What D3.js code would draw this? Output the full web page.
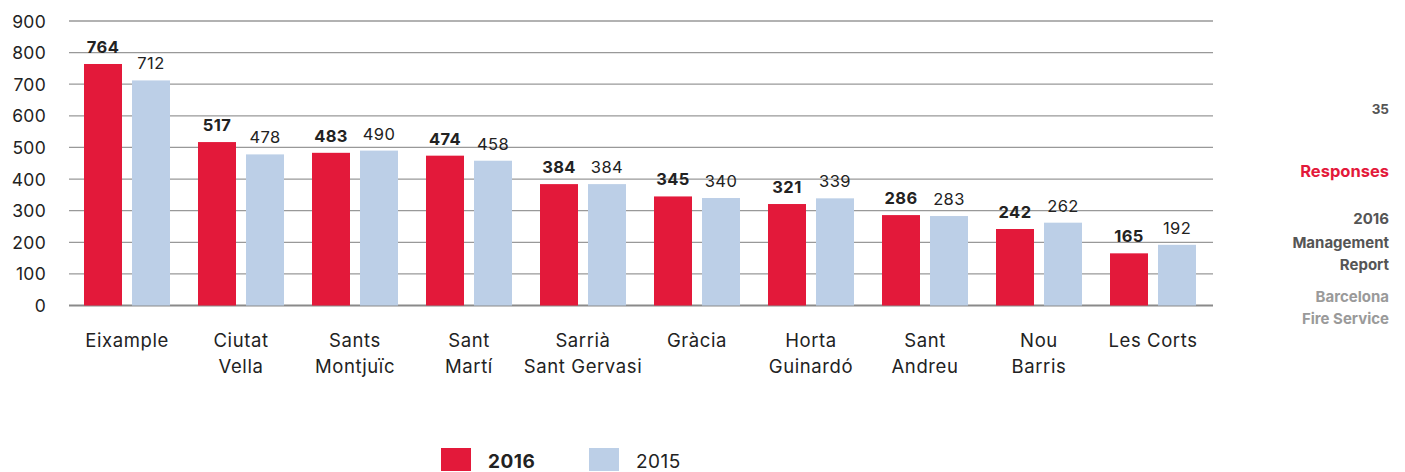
<!DOCTYPE html>
<html><head><meta charset="utf-8">
<script src="https://cdn.jsdelivr.net/npm/d3@7"></script>
<style>
body{margin:0;background:#fff;}
text{font-family:Inter,Roboto,sans-serif;}
</style></head>
<body>
<svg id="c" width="1405" height="472"></svg>
<script>
const categories = [["Eixample"],["Ciutat","Vella"],["Sants","Montjuïc"],["Sant","Martí"],["Sarrià","Sant Gervasi"],["Gràcia"],["Horta","Guinardó"],["Sant","Andreu"],["Nou","Barris"],["Les Corts"]];
const values2016 = [764,517,483,474,384,345,321,286,242,165];
const values2015 = [712,478,490,458,384,340,339,283,262,192];
const seriesNames = ["2016","2015"];
const yTicks = [0,100,200,300,400,500,600,700,800,900];
const sideTexts = ["35","Responses","2016","Management","Report","Barcelona","Fire Service"];

const colors = {"2016":"#e3193a","2015":"#bccfe7"};
const svg = d3.select("#c");
const keys = categories.map(c=>c.join(" "));
const x = d3.scaleBand().domain(keys).range([70,1210]).paddingInner(0).paddingOuter(0);
const xs = d3.scaleBand().domain(seriesNames).range([0,114]).paddingInner(10/48).paddingOuter(14/48);
const y = d3.scaleLinear().domain([0,900]).range([305.5,21]);

svg.append("g").selectAll("line").data(yTicks).join("line")
  .attr("x1",69).attr("x2",1213)
  .attr("y1",d=>y(d)).attr("y2",d=>y(d))
  .attr("stroke",d=>d===0?"#8a8a8a":"#999").attr("stroke-width",d=>d===0?2:1.3);

svg.append("g").selectAll("text").data(yTicks).join("text")
  .attr("x",46).attr("y",d=>y(d)+6.5).attr("text-anchor","end")
  .attr("font-size",17.5).attr("letter-spacing",0.3).attr("fill","#222").text(d=>d);

const data = keys.map((k,i)=>({k, vals:[{s:"2016",v:values2016[i]},{s:"2015",v:values2015[i]}]}));
const g = svg.append("g").selectAll("g").data(data).join("g")
  .attr("transform",d=>`translate(${x(d.k)},0)`);
g.selectAll("rect").data(d=>d.vals).join("rect")
  .attr("x",d=>xs(d.s)).attr("width",xs.bandwidth())
  .attr("y",d=>y(d.v)).attr("height",d=>y(0)-y(d.v))
  .attr("fill",d=>colors[d.s]);
g.selectAll("text.v").data(d=>d.vals).join("text").attr("class","v")
  .attr("x",d=>xs(d.s)+xs.bandwidth()/2).attr("y",d=>y(d.v)-11)
  .attr("text-anchor","middle").attr("font-size",16.5).attr("letter-spacing",0.4)
  .attr("font-weight",d=>d.s==="2016"?"bold":"normal")
  .attr("fill","#222").text(d=>d.v);

const cl = svg.append("g").selectAll("text").data(categories).join("text")
  .attr("x",(d,i)=>x(keys[i])+x.bandwidth()/2).attr("y",347)
  .attr("text-anchor","middle").attr("font-size",18.5).attr("letter-spacing",0.6).attr("fill","#222");
cl.selectAll("tspan").data(d=>d).join("tspan")
  .attr("x",function(){return this.parentNode.getAttribute("x");})
  .attr("dy",(d,i)=>i===0?0:26).text(d=>d);

const leg = svg.append("g");
seriesNames.forEach((s,i)=>{
  const lx = 441 + i*148;
  leg.append("rect").attr("x",lx).attr("y",448).attr("width",30).attr("height",23).attr("fill",colors[s]);
  leg.append("text").attr("x",lx+47).attr("y",468).attr("font-size",19).attr("letter-spacing",0.5)
    .attr("font-weight",i===0?"bold":"normal").attr("fill","#222").text(s);
});

const sideY = [114,177,224,248,270,302,324];
const sideCol = ["#555","#e3193a","#555","#555","#555","#9a9a9a","#9a9a9a"];
const sideSize = [13.5,16.5,15,15,15,15,15];
svg.append("g").selectAll("text").data(sideTexts).join("text")
  .attr("x",1389).attr("y",(d,i)=>sideY[i]).attr("text-anchor","end")
  .attr("font-weight","bold").attr("font-size",(d,i)=>sideSize[i])
  .attr("fill",(d,i)=>sideCol[i]).text(d=>d);
</script>
</body></html>
